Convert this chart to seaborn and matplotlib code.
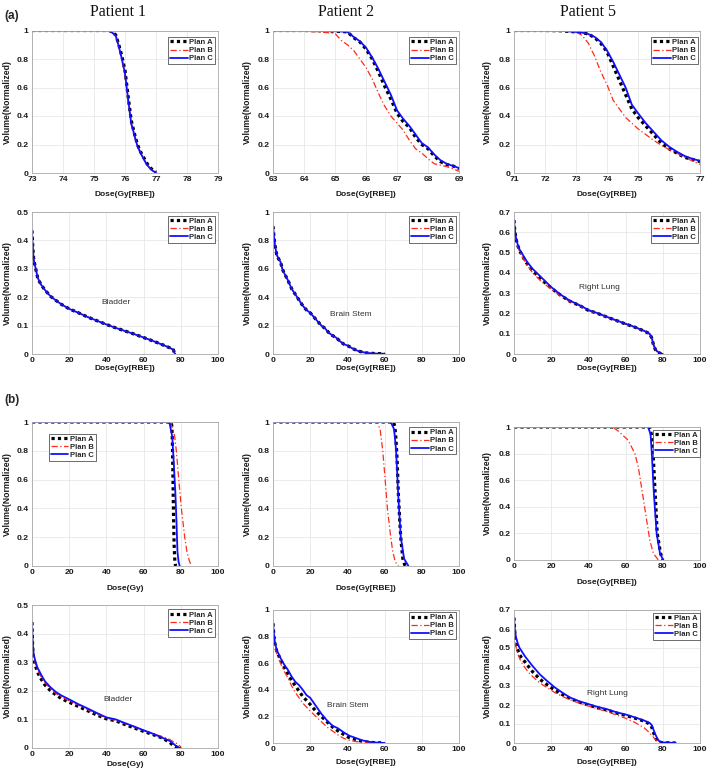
import numpy as np
import pandas as pd
import matplotlib
matplotlib.use("Agg")
import matplotlib.pyplot as plt
import seaborn as sns
from matplotlib.ticker import FuncFormatter

# ---------------- data ----------------
plans = ["Plan A", "Plan B", "Plan C"]
patients = ["Patient 1", "Patient 2", "Patient 5"]

# (a) row 1: target DVHs
p1_tv_dose = [73, 75.5, 75.7, 75.8, 75.9, 76.0, 76.1, 76.2, 76.3, 76.4, 76.5, 76.6, 76.7, 76.8, 76.9, 77.0]
p1_tv_A = [1, 1, 0.97, 0.9, 0.82, 0.72, 0.54, 0.37, 0.28, 0.2, 0.15, 0.11, 0.07, 0.04, 0.02, 0.005]
p1_tv_B = [1, 1, 0.96, 0.88, 0.79, 0.68, 0.5, 0.34, 0.26, 0.19, 0.15, 0.1, 0.06, 0.035, 0.015, 0.002]
p1_tv_C = [1, 1, 0.965, 0.89, 0.8, 0.7, 0.52, 0.35, 0.27, 0.19, 0.14, 0.1, 0.06, 0.035, 0.015, 0.002]

p2_tv_dose = [63, 64, 64.5, 65, 65.2, 65.4, 65.6, 65.8, 66.0, 66.2, 66.4, 66.6, 66.8, 67.0, 67.2, 67.4,
              67.6, 67.8, 68.0, 68.2, 68.4, 68.6, 68.8, 69.0]
p2_tv_A = [1, 1, 0.998, 0.995, 0.993, 0.99, 0.95, 0.92, 0.87, 0.8, 0.71, 0.61, 0.52, 0.42, 0.36, 0.32,
           0.25, 0.2, 0.17, 0.12, 0.08, 0.06, 0.05, 0.03]
p2_tv_B = [1, 0.995, 0.99, 0.98, 0.93, 0.9, 0.86, 0.8, 0.74, 0.66, 0.56, 0.47, 0.4, 0.35, 0.3, 0.23,
           0.17, 0.14, 0.1, 0.065, 0.055, 0.045, 0.03, 0.012]
p2_tv_C = [1, 1, 0.998, 0.995, 0.993, 0.99, 0.955, 0.925, 0.88, 0.81, 0.73, 0.64, 0.55, 0.44, 0.38, 0.33,
           0.27, 0.21, 0.18, 0.13, 0.09, 0.065, 0.05, 0.035]

p5_tv_dose = [71, 72, 72.5, 73, 73.2, 73.4, 73.6, 73.8, 74.0, 74.2, 74.4, 74.6, 74.8, 75.0, 75.25, 75.5,
              75.75, 76.0, 76.25, 76.5, 76.75, 77.0]
p5_tv_A = [1, 1, 0.998, 0.99, 0.985, 0.975, 0.95, 0.91, 0.85, 0.75, 0.65, 0.55, 0.45, 0.39, 0.33, 0.27,
           0.21, 0.17, 0.14, 0.11, 0.095, 0.08]
p5_tv_B = [1, 1, 0.997, 0.99, 0.965, 0.91, 0.82, 0.71, 0.62, 0.51, 0.45, 0.39, 0.35, 0.31, 0.27, 0.23,
           0.195, 0.165, 0.14, 0.11, 0.085, 0.06]
p5_tv_C = [1, 1, 0.998, 0.99, 0.985, 0.975, 0.955, 0.92, 0.86, 0.78, 0.69, 0.6, 0.48, 0.42, 0.35, 0.29,
           0.23, 0.185, 0.15, 0.12, 0.1, 0.085]

# (a) row 2: organs at risk
p1_bl_dose = [0, 0.3, 0.7, 1, 1.5, 2, 3, 4, 5, 7, 10, 13, 16, 20, 25, 30, 35, 40, 45, 50, 55, 60, 65,
              70, 74, 76, 76.5, 77]
p1_bl_vol = [0.435, 0.39, 0.35, 0.33, 0.315, 0.3, 0.27, 0.255, 0.243, 0.225, 0.203, 0.188, 0.174, 0.159,
             0.145, 0.13, 0.117, 0.104, 0.092, 0.081, 0.07, 0.058, 0.046, 0.033, 0.022, 0.015, 0.005, 0]

p2_bs_dose = [0, 0.5, 1, 2, 3, 4, 5, 6, 8, 10, 12, 14, 16, 18, 20, 22, 24, 26, 28, 30, 32, 34, 36, 38,
              40, 43, 46, 50, 55, 60]
p2_bs_vol = [0.9, 0.83, 0.77, 0.7, 0.67, 0.65, 0.6, 0.57, 0.52, 0.46, 0.42, 0.38, 0.34, 0.31, 0.29, 0.26,
             0.23, 0.2, 0.18, 0.15, 0.13, 0.115, 0.09, 0.07, 0.06, 0.037, 0.02, 0.008, 0.003, 0.002]

p5_rl_dose = [0, 0.3, 0.7, 1, 2, 3, 5, 7, 10, 15, 20, 25, 30, 35, 40, 45, 50, 55, 60, 65, 70, 72, 73,
              74, 75, 76, 77, 78, 79, 80]
p5_rl_A = [0.66, 0.62, 0.59, 0.57, 0.535, 0.51, 0.475, 0.445, 0.41, 0.365, 0.325, 0.29, 0.26, 0.24,
           0.215, 0.2, 0.182, 0.165, 0.148, 0.132, 0.113, 0.104, 0.098, 0.08, 0.045, 0.022, 0.012, 0.006,
           0.002, 0]
p5_rl_B = [0.66, 0.615, 0.585, 0.565, 0.53, 0.505, 0.47, 0.44, 0.4, 0.355, 0.32, 0.287, 0.258, 0.238,
           0.214, 0.199, 0.181, 0.164, 0.147, 0.131, 0.112, 0.103, 0.096, 0.075, 0.04, 0.02, 0.01, 0.005,
           0.002, 0]
p5_rl_C = [0.66, 0.625, 0.595, 0.575, 0.54, 0.515, 0.485, 0.455, 0.42, 0.375, 0.33, 0.293, 0.263, 0.242,
           0.217, 0.201, 0.183, 0.166, 0.149, 0.133, 0.114, 0.105, 0.099, 0.082, 0.048, 0.024, 0.013,
           0.007, 0.002, 0]

# (b) row 3: target DVHs
p1_b_dose_A = [0, 74.8, 75.2, 75.5, 75.8, 76.1, 76.4, 76.8, 77.2]
p1_b_A = [1, 1, 0.97, 0.85, 0.6, 0.35, 0.15, 0.03, 0]
p1_b_dose_B = [0, 73, 74.5, 75.8, 76.7, 77.6, 78.9, 80.3, 82.1, 83.3, 84.5, 85.7]
p1_b_B = [1, 1, 0.99, 0.95, 0.9, 0.8, 0.6, 0.4, 0.2, 0.1, 0.04, 0]
p1_b_dose_C = [0, 73, 74, 74.6, 75.4, 76.2, 77.1, 77.7, 78.2, 78.8, 79.4]
p1_b_C = [1, 1, 0.99, 0.95, 0.9, 0.72, 0.5, 0.3, 0.1, 0.03, 0]

p2_b_dose_A = [0, 64.8, 65.5, 66, 66.7, 67.4, 68.2, 68.8, 69.8, 71]
p2_b_A = [1, 1, 0.97, 0.9, 0.75, 0.5, 0.3, 0.18, 0.05, 0]
p2_b_dose_B = [0, 56, 57.6, 59, 60.3, 61.5, 63.3, 64.4, 65.7, 67.4]
p2_b_B = [1, 1, 0.95, 0.8, 0.6, 0.4, 0.2, 0.1, 0.03, 0]
p2_b_dose_C = [0, 63.3, 65.1, 66.2, 67.3, 68.7, 70.5, 72.8]
p2_b_C = [1, 1, 0.95, 0.8, 0.5, 0.2, 0.05, 0]

p5_b_dose_A = [0, 72.8, 73.8, 74.6, 75.9, 77, 78.8, 80]
p5_b_A = [1, 1, 0.95, 0.85, 0.5, 0.2, 0.05, 0]
p5_b_dose_B = [0, 53, 56, 61.4, 65, 66.8, 69.1, 71.3, 73, 74.9, 77.6]
p5_b_B = [1, 1, 0.97, 0.9, 0.8, 0.7, 0.5, 0.3, 0.15, 0.05, 0]
p5_b_dose_C = [0, 72, 73.4, 74.1, 75.2, 76.7, 78.5, 80.2]
p5_b_C = [1, 1, 0.95, 0.8, 0.5, 0.2, 0.05, 0]

# (b) row 4: organs at risk
p1_blb_dose = [0, 0.3, 0.7, 1, 2, 3, 4, 5, 7, 10, 13, 16, 20, 25, 30, 35, 40, 45, 50, 55, 60, 65, 70,
               74, 76, 78, 79, 80]
p1_blb_A = [0.44, 0.36, 0.32, 0.31, 0.285, 0.265, 0.252, 0.24, 0.22, 0.2, 0.185, 0.172, 0.16, 0.145,
            0.13, 0.115, 0.102, 0.095, 0.082, 0.07, 0.058, 0.047, 0.035, 0.02, 0.008, 0.003, 0, 0]
p1_blb_B = [0.44, 0.37, 0.33, 0.318, 0.293, 0.273, 0.26, 0.248, 0.228, 0.207, 0.19, 0.178, 0.165, 0.15,
            0.134, 0.118, 0.105, 0.097, 0.085, 0.073, 0.061, 0.05, 0.04, 0.03, 0.022, 0.015, 0.01, 0.004]
p1_blb_C = [0.44, 0.38, 0.34, 0.325, 0.3, 0.28, 0.268, 0.255, 0.233, 0.212, 0.195, 0.183, 0.17, 0.153,
            0.138, 0.122, 0.107, 0.1, 0.087, 0.075, 0.062, 0.05, 0.036, 0.025, 0.015, 0.004, 0.001, 0]

p2_bsb_dose = [0, 0.5, 1, 2, 4, 6, 8, 10, 12, 14, 16, 18, 20, 23, 26, 29, 32, 35, 38, 41, 44, 48, 52,
               56, 60]
p2_bsb_A = [0.9, 0.8, 0.75, 0.69, 0.63, 0.57, 0.52, 0.47, 0.43, 0.39, 0.35, 0.32, 0.29, 0.24, 0.2, 0.16,
            0.12, 0.09, 0.065, 0.04, 0.028, 0.012, 0.005, 0.002, 0]
p2_bsb_B = [0.9, 0.79, 0.73, 0.67, 0.6, 0.54, 0.49, 0.43, 0.38, 0.34, 0.3, 0.27, 0.24, 0.2, 0.16, 0.12,
            0.09, 0.06, 0.035, 0.02, 0.012, 0.004, 0.001, 0, 0]
p2_bsb_C = [0.9, 0.82, 0.76, 0.7, 0.64, 0.59, 0.55, 0.5, 0.46, 0.435, 0.4, 0.36, 0.34, 0.28, 0.22, 0.17,
            0.13, 0.11, 0.08, 0.055, 0.04, 0.02, 0.008, 0.003, 0]

p5_rlb_dose = [0, 0.5, 1, 2, 3, 4, 6, 8, 10, 14, 18, 22, 26, 30, 35, 40, 45, 50, 55, 60, 65, 70, 72, 73,
               74, 75, 76, 77, 78, 80, 83, 87]
p5_rlb_A = [0.66, 0.57, 0.53, 0.49, 0.465, 0.45, 0.425, 0.4, 0.375, 0.335, 0.305, 0.278, 0.255, 0.235,
            0.215, 0.2, 0.185, 0.173, 0.158, 0.145, 0.131, 0.115, 0.105, 0.097, 0.085, 0.055, 0.03, 0.01,
            0.004, 0.002, 0.001, 0]
p5_rlb_B = [0.66, 0.55, 0.51, 0.47, 0.445, 0.425, 0.395, 0.37, 0.35, 0.315, 0.29, 0.265, 0.245, 0.228,
            0.21, 0.195, 0.18, 0.165, 0.148, 0.13, 0.108, 0.08, 0.062, 0.052, 0.042, 0.03, 0.018, 0.009,
            0.004, 0, 0, 0]
p5_rlb_C = [0.66, 0.595, 0.56, 0.525, 0.5, 0.485, 0.455, 0.43, 0.405, 0.36, 0.325, 0.292, 0.265, 0.24,
            0.22, 0.205, 0.19, 0.178, 0.162, 0.15, 0.135, 0.118, 0.11, 0.105, 0.095, 0.07, 0.045, 0.025,
            0.01, 0.003, 0.002, 0]

organ_labels = ["Bladder", "Brain Stem", "Right Lung"]

# ---------------- styling ----------------
sns.set_theme(style="whitegrid")
plt.rcParams['font.family'] = ['Liberation Sans', 'DejaVu Sans']

W, H = 709, 772
fig = plt.figure(figsize=(W / 100, H / 100), dpi=100)

styles = {
    "Plan A": dict(color="black", lw=2.3, ls=(0, (1, 1))),
    "Plan B": dict(color="#ff2a1a", lw=0.9, ls=(0, (5, 2, 1, 2))),
    "Plan C": dict(color="#1010ff", lw=1.3, ls="-"),
}

cols = [(32, 218), (273, 459), (514, 700)]
ylab_x = [12, 252, 492]

panels = [
    # row 1
    dict(col=0, tb=(30.5, 173), xlim=(73, 79), xticks=range(73, 80), ylim=(0, 1), ystep=0.2,
         xlabel="Dose(Gy[RBE])", xl_y=196,
         curves=[(p1_tv_dose, p1_tv_A), (p1_tv_dose, p1_tv_B), (p1_tv_dose, p1_tv_C)],
         leg=("upper right", (0.985, 0.955))),
    dict(col=1, tb=(30.5, 173), xlim=(63, 69), xticks=range(63, 70), ylim=(0, 1), ystep=0.2,
         xlabel="Dose(Gy[RBE])", xl_y=196,
         curves=[(p2_tv_dose, p2_tv_A), (p2_tv_dose, p2_tv_B), (p2_tv_dose, p2_tv_C)],
         leg=("upper right", (0.985, 0.955))),
    dict(col=2, tb=(30.5, 173), xlim=(71, 77), xticks=range(71, 78), ylim=(0, 1), ystep=0.2,
         xlabel="Dose(Gy[RBE])", xl_y=196,
         curves=[(p5_tv_dose, p5_tv_A), (p5_tv_dose, p5_tv_B), (p5_tv_dose, p5_tv_C)],
         leg=("upper right", (0.99, 0.955))),
    # row 2
    dict(col=0, tb=(212, 354), xlim=(0, 100), xticks=range(0, 101, 20), ylim=(0, 0.5), ystep=0.1,
         xlabel="Dose(Gy[RBE])", xl_y=369,
         curves=[(p1_bl_dose, p1_bl_vol), (p1_bl_dose, p1_bl_vol), (p1_bl_dose, p1_bl_vol)],
         leg=("upper right", (0.985, 0.975)), organ=(organ_labels[0], 45, 0.18)),
    dict(col=1, tb=(212, 354), xlim=(0, 100), xticks=range(0, 101, 20), ylim=(0, 1), ystep=0.2,
         xlabel="Dose(Gy[RBE])", xl_y=369,
         curves=[(p2_bs_dose, p2_bs_vol), (p2_bs_dose, p2_bs_vol), (p2_bs_dose, p2_bs_vol)],
         leg=("upper right", (0.985, 0.975)), organ=(organ_labels[1], 42, 0.28)),
    dict(col=2, tb=(212, 354), xlim=(0, 100), xticks=range(0, 101, 20), ylim=(0, 0.7), ystep=0.1,
         xlabel="Dose(Gy[RBE])", xl_y=369,
         curves=[(p5_rl_dose, p5_rl_A), (p5_rl_dose, p5_rl_B), (p5_rl_dose, p5_rl_C)],
         leg=("upper right", (0.99, 0.975)), organ=(organ_labels[2], 46, 0.33)),
    # row 3
    dict(col=0, tb=(422, 566), xlim=(0, 100), xticks=range(0, 101, 20), ylim=(0, 1), ystep=0.2,
         xlabel="Dose(Gy)", xl_y=589,
         curves=[(p1_b_dose_A, p1_b_A), (p1_b_dose_B, p1_b_B), (p1_b_dose_C, p1_b_C)],
         leg=("upper left", (0.09, 0.92))),
    dict(col=1, tb=(422, 566), xlim=(0, 100), xticks=range(0, 101, 20), ylim=(0, 1), ystep=0.2,
         xlabel="Dose(Gy[RBE])", xl_y=589,
         curves=[(p2_b_dose_A, p2_b_A), (p2_b_dose_B, p2_b_B), (p2_b_dose_C, p2_b_C)],
         leg=("upper right", (0.985, 0.965))),
    dict(col=2, tb=(427, 560), xlim=(0, 100), xticks=range(0, 101, 20), ylim=(0, 1), ystep=0.2,
         xlabel="Dose(Gy[RBE])", xl_y=583,
         curves=[(p5_b_dose_A, p5_b_A), (p5_b_dose_B, p5_b_B), (p5_b_dose_C, p5_b_C)],
         leg=("upper right", (1.0, 0.98))),
    # row 4
    dict(col=0, tb=(605, 748), xlim=(0, 100), xticks=range(0, 101, 20), ylim=(0, 0.5), ystep=0.1,
         xlabel="Dose(Gy)", xl_y=766,
         curves=[(p1_blb_dose, p1_blb_A), (p1_blb_dose, p1_blb_B), (p1_blb_dose, p1_blb_C)],
         leg=("upper right", (0.985, 0.97)), organ=(organ_labels[0], 46, 0.17)),
    dict(col=1, tb=(610, 743), xlim=(0, 100), xticks=range(0, 101, 20), ylim=(0, 1), ystep=0.2,
         xlabel="Dose(Gy[RBE])", xl_y=764,
         curves=[(p2_bsb_dose, p2_bsb_A), (p2_bsb_dose, p2_bsb_B), (p2_bsb_dose, p2_bsb_C)],
         leg=("upper right", (0.985, 0.985)), organ=(organ_labels[1], 40, 0.28)),
    dict(col=2, tb=(610, 743), xlim=(0, 100), xticks=range(0, 101, 20), ylim=(0, 0.7), ystep=0.1,
         xlabel="Dose(Gy[RBE])", xl_y=764,
         curves=[(p5_rlb_dose, p5_rlb_A), (p5_rlb_dose, p5_rlb_B), (p5_rlb_dose, p5_rlb_C)],
         leg=("upper right", (1.0, 0.98)), organ=(organ_labels[2], 50, 0.26)),
]

fmt = FuncFormatter(lambda v, p: "%g" % round(v, 3))

for pnl in panels:
    l, r = cols[pnl["col"]]
    t, b = pnl["tb"]
    ax = fig.add_axes([l / W, 1 - b / H, (r - l) / W, (b - t) / H])
    for plan, (xd, yd) in zip(plans, pnl["curves"]):
        st = styles[plan]
        df = pd.DataFrame({"dose": xd, "vol": yd})
        sns.lineplot(data=df, x="dose", y="vol", ax=ax, color=st["color"], linewidth=st["lw"],
                     linestyle=st["ls"], label=plan, estimator=None, sort=False)
    ax.set_xlim(*pnl["xlim"])
    ax.set_ylim(*pnl["ylim"])
    ax.set_xticks(list(pnl["xticks"]))
    ax.set_yticks(np.round(np.arange(pnl["ylim"][0], pnl["ylim"][1] + 1e-9, pnl["ystep"]), 3))
    ax.xaxis.set_major_formatter(fmt)
    ax.yaxis.set_major_formatter(fmt)
    ax.set_facecolor("white")
    ax.grid(True, color="#e3e3e3", lw=0.5)
    for s in ax.spines.values():
        s.set_color("#a8a8a8")
        s.set_linewidth(0.6)
    ax.tick_params(axis="both", which="both", direction="in", length=2, width=0.5, color="#888888",
                   labelsize=6.1, pad=2.5, labelcolor="#1a1a1a")
    for lab in ax.get_xticklabels() + ax.get_yticklabels():
        lab.set_fontweight("bold")
    hgt = b - t
    wid = r - l
    ax.set_xlabel(pnl["xlabel"], fontsize=6.0, fontweight="bold", color="#1a1a1a")
    ax.xaxis.set_label_coords(0.5, -(pnl["xl_y"] - 4.5 - b) / hgt)
    ax.set_ylabel("Volume(Normalized)", fontsize=6.2, fontweight="bold", color="#1a1a1a")
    ax.yaxis.set_label_coords((ylab_x[pnl["col"]] - l) / wid, 0.5)
    loc, anchor = pnl["leg"]
    leg = ax.legend(loc=loc, bbox_to_anchor=anchor, borderaxespad=0,
                    prop={"weight": "bold", "size": 5.5}, frameon=True, fancybox=False,
                    framealpha=1, edgecolor="#333333", borderpad=0.25, labelspacing=0.1,
                    handlelength=2.3, handletextpad=0.2)
    leg.get_frame().set_linewidth(0.5)
    if "organ" in pnl:
        name, ox, oy = pnl["organ"]
        ax.text(ox, oy, name, fontsize=6, color="#333333", ha="center", va="center")

# column titles and panel labels
title_x = [118, 346, 588]
for name, tx in zip(patients, title_x):
    fig.text(tx / W, 1 - 12 / H, name, fontsize=11.5, family="Liberation Serif",
             ha="center", va="center", color="#111111")
fig.text(12 / W, 1 - 16 / H, "(a)", fontsize=8.5, fontweight="bold", ha="center", va="center")
fig.text(12 / W, 1 - 400 / H, "(b)", fontsize=8.5, fontweight="bold", ha="center", va="center")

fig.savefig("out.png", dpi=100, facecolor="white")
